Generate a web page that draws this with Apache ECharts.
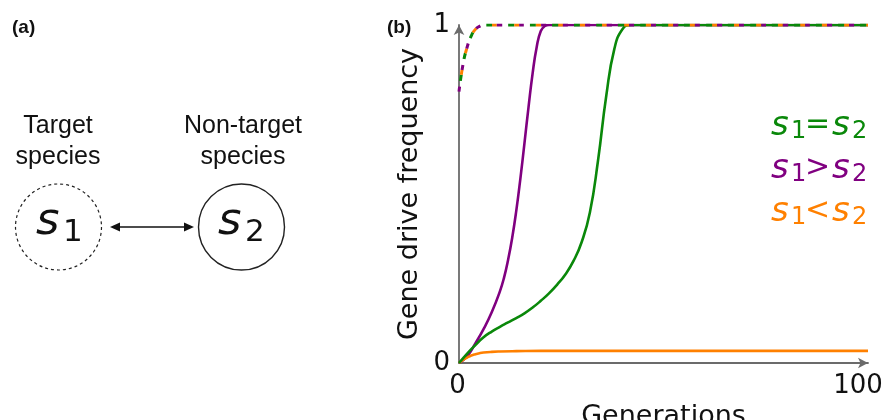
<!DOCTYPE html>
<html>
<head>
<meta charset="utf-8">
<script src="https://cdn.jsdelivr.net/npm/echarts@6/dist/echarts.min.js"></script>
<style>html,body{margin:0;padding:0;background:#fff;}#c{width:887px;height:420px;}</style>
</head>
<body>
<div id="c"></div>
<script>
// ---- data ----
const xTicks = [0, 100];
const yTicks = [0, 1];

const equalGen = [0,2,4,6,8,10,12,14,16,18,20,22,24,26,28,30,32,34,36,38,40,42,50,60,70,80,90,100];
const equalVal = [0,0.028,0.053,0.076,0.093,0.107,0.12,0.133,0.147,0.164,0.184,0.206,0.232,0.262,0.302,0.358,0.445,0.6,0.79,0.93,0.988,1,1,1,1,1,1,1];

const greaterGen = [0,2,4,6,8,10,11,12,13,14,15,16,17,18,19,20,21,22,30,40,50,60,70,80,90,100];
const greaterVal = [0,0.02,0.058,0.1,0.15,0.212,0.252,0.305,0.37,0.45,0.545,0.65,0.757,0.857,0.935,0.982,0.997,1,1,1,1,1,1,1,1,1];

const lessGen = [0,1,2,3,4,5,6,8,10,14,20,30,50,70,100];
const lessVal = [0,0.009,0.016,0.022,0.026,0.029,0.031,0.033,0.034,0.035,0.036,0.036,0.036,0.036,0.036];

const dashGen = [0,1,2,3,4,5,6,10,20,30,40,50,60,70,80,90,100];
const dashVal = [0.803,0.885,0.935,0.968,0.987,0.996,1,1,1,1,1,1,1,1,1,1,1];

const GREEN = '#0a880a', PURPLE = '#800080', ORANGE = '#ff8000';
const zip = (a, b) => a.map((v, i) => [v, b[i]]);

const chart = echarts.init(document.getElementById('c'), null, {renderer: 'canvas'});

const axisCol = '#6b6b6b';
const labFont = 'DejaVu Sans';

function solid(name, data, color, z) {
  return {name, type: 'line', data, showSymbol: false, symbol: 'none', smooth: 0.5,
    lineStyle: {color, width: 2.6}, z, animation: false};
}
function dashed(name, data, color, len, off, z) {
  return {name, type: 'line', data, showSymbol: false, symbol: 'none', smooth: 0.5,
    lineStyle: {color, width: 3, type: [len, 22 - len], dashOffset: off}, z, animation: false};
}

function subText(x, y, main, sub, color, mainSize, subSize, subDx, subDy) {
  return [
    {type: 'text', x: x, y: y, style: {text: main, fill: color, fontFamily: 'DejaVu Sans', fontStyle: 'italic', fontSize: mainSize, align: 'left', verticalAlign: 'middle'}},
    {type: 'text', x: x + subDx, y: y + subDy, style: {text: sub, fill: color, fontFamily: 'DejaVu Sans', fontSize: subSize, align: 'left', verticalAlign: 'middle'}}
  ];
}

const graphics = [];
// panel labels
graphics.push({type: 'text', x: 12, y: 28, style: {text: '(a)', fill: '#111', fontFamily: 'Liberation Sans', fontWeight: 'bold', fontSize: 19, align: 'left', verticalAlign: 'middle'}});
graphics.push({type: 'text', x: 387, y: 28, style: {text: '(b)', fill: '#111', fontFamily: 'Liberation Sans', fontWeight: 'bold', fontSize: 19, align: 'left', verticalAlign: 'middle'}});
// panel (a)
graphics.push({type: 'text', x: 58, y: 142, style: {text: 'Target\nspecies', fill: '#111', fontFamily: 'Liberation Sans', fontSize: 25, lineHeight: 31, align: 'center', verticalAlign: 'middle'}});
graphics.push({type: 'text', x: 243, y: 142, style: {text: 'Non-target\nspecies', fill: '#111', fontFamily: 'Liberation Sans', fontSize: 25, lineHeight: 31, align: 'center', verticalAlign: 'middle'}});
graphics.push({type: 'circle', shape: {cx: 58.5, cy: 227, r: 43}, style: {fill: 'none', stroke: '#222', lineWidth: 1.2, lineDash: [3, 3]}});
graphics.push({type: 'circle', shape: {cx: 241.5, cy: 227, r: 43}, style: {fill: 'none', stroke: '#222', lineWidth: 1.4}});
graphics.push({type: 'line', shape: {x1: 118, y1: 227, x2: 186, y2: 227}, style: {stroke: '#111', lineWidth: 1.6}});
graphics.push({type: 'polygon', shape: {points: [[110, 227], [120, 222.5], [120, 231.5]]}, style: {fill: '#111'}});
graphics.push({type: 'polygon', shape: {points: [[194, 227], [184, 222.5], [184, 231.5]]}, style: {fill: '#111'}});
graphics.push(...subText(36, 222, 's', '1', '#111', 45, 31, 27, 11));
graphics.push(...subText(218, 222, 's', '2', '#111', 45, 31, 27, 11));
// legend-like labels (panel b)
function legendLine(y, op, color) {
  const x0 = 771;
  const out = [];
  out.push(...subText(x0, y, 's', '1', color, 34, 24, 20, 6));
  out.push({type: 'text', x: x0 + 34, y: y - 1, style: {text: op, fill: color, fontFamily: 'DejaVu Sans', fontSize: 30, align: 'left', verticalAlign: 'middle'}});
  out.push(...subText(x0 + 61, y, 's', '2', color, 34, 24, 20, 6));
  return out;
}
graphics.push(...legendLine(126, '=', GREEN));
graphics.push(...legendLine(169, '>', PURPLE));
graphics.push(...legendLine(212, '<', ORANGE));

const option = {
  animation: false,
  backgroundColor: '#fff',
  grid: {left: 459, right: 19, top: 25, bottom: 57, containLabel: false, outerBoundsMode: 'none'},
  xAxis: {
    type: 'value', min: xTicks[0], max: xTicks[1], interval: xTicks[1] - xTicks[0],
    name: 'Generations', nameLocation: 'middle', nameGap: 33,
    nameTextStyle: {fontFamily: labFont, fontSize: 27, color: '#111'},
    axisLine: {show: true, symbol: ['none', 'arrow'], symbolSize: [8, 10], lineStyle: {color: axisCol, width: 1.8}},
    axisTick: {show: false}, splitLine: {show: false},
    axisLabel: {fontFamily: labFont, fontSize: 26, color: '#111', margin: 10,
      formatter: v => v === 100 ? '{r|100}' : '{l|' + v + '}',
      rich: {r: {fontFamily: labFont, fontSize: 26, color: '#111', padding: [0, 20, 0, 0]},
             l: {fontFamily: labFont, fontSize: 26, color: '#111', padding: [0, 3, 0, 0]}}}
  },
  yAxis: {
    type: 'value', min: yTicks[0], max: yTicks[1], interval: yTicks[1] - yTicks[0],
    name: 'Gene drive frequency', nameLocation: 'middle', nameGap: 36,
    nameTextStyle: {fontFamily: labFont, fontSize: 27, color: '#111'},
    axisLine: {show: true, symbol: ['none', 'arrow'], symbolSize: [8, 10], lineStyle: {color: axisCol, width: 1.8}},
    axisTick: {show: false}, splitLine: {show: false},
    axisLabel: {fontFamily: labFont, fontSize: 26, color: '#111', margin: 9, padding: [3, 0, 0, 0]}
  },
  graphic: graphics,
  series: [
    solid('s1>s2', zip(greaterGen, greaterVal), PURPLE, 2),
    solid('s1=s2', zip(equalGen, equalVal), GREEN, 3),
    solid('s1<s2', zip(lessGen, lessVal), ORANGE, 2),
    dashed('other s1=s2', zip(dashGen, dashVal), GREEN, 6, 11, 5),
    dashed('other s1<s2', zip(dashGen, dashVal), ORANGE, 5, 5, 6),
    dashed('other s1>s2', zip(dashGen, dashVal), PURPLE, 5, 0, 7)
  ]
};
chart.setOption(option);
</script>
</body>
</html>
